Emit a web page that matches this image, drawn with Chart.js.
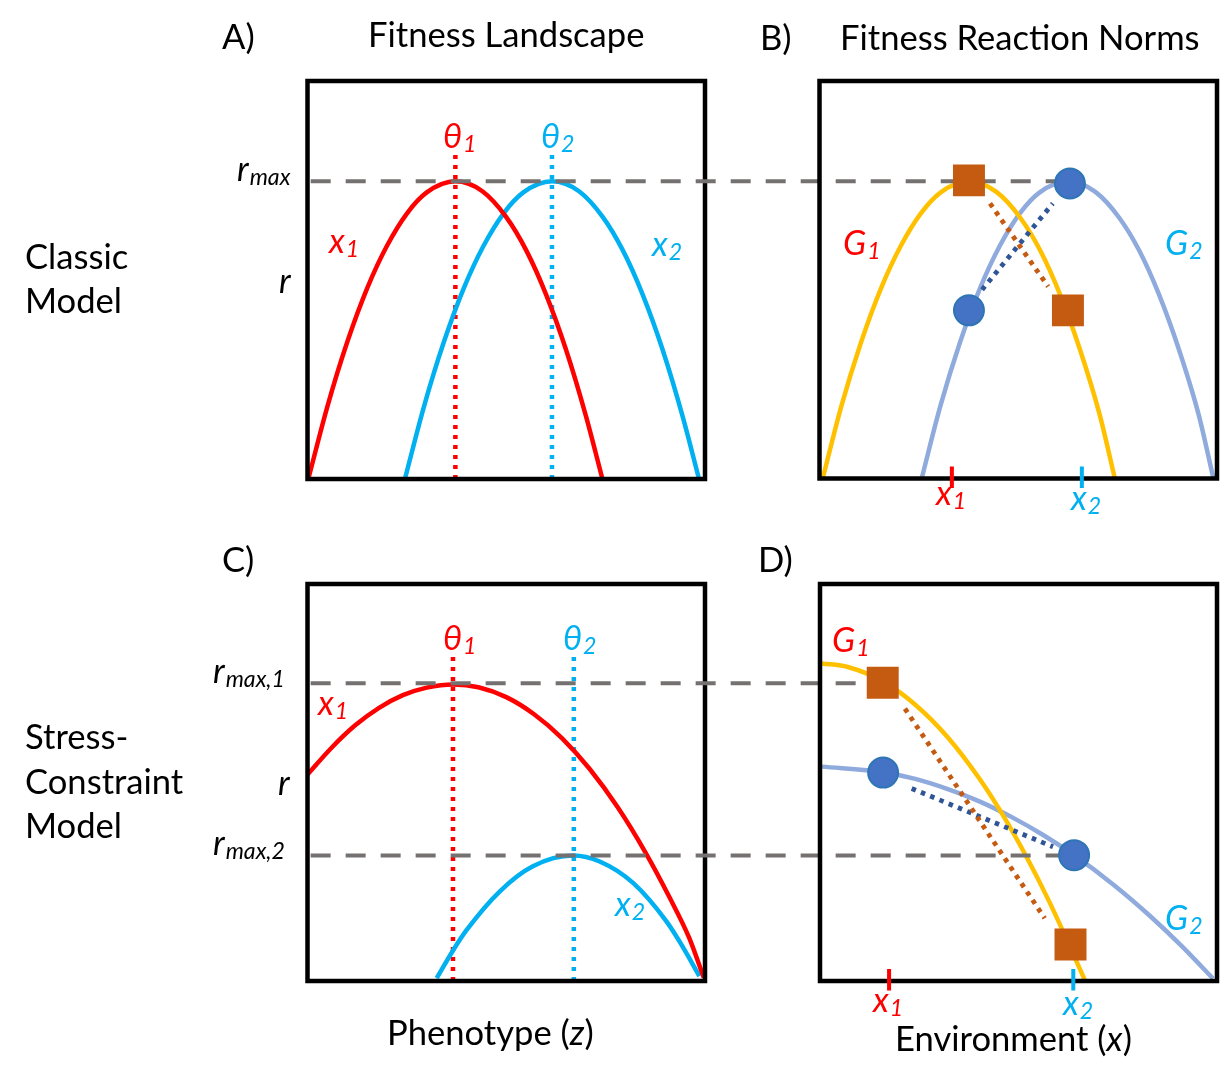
<!DOCTYPE html>
<html><head><meta charset="utf-8">
<script src="https://cdn.jsdelivr.net/npm/chart.js@4.4.1/dist/chart.umd.min.js"></script>
<style>
html,body{margin:0;padding:0;background:#fff;}
#fig{position:relative;width:1220px;height:1085px;overflow:hidden;background:#fff;}
#fig canvas{position:absolute;left:0;top:0;}
.t{position:absolute;white-space:nowrap;line-height:1;font-family:Lato,'Open Sans',sans-serif;color:#000;font-size:34.6px;}
.m{font-style:italic;font-size:34px;}
.s{font-size:0.68em;position:relative;top:0.2em;margin-left:1px;}
.red{color:#FF0000;} .cyan{color:#00B0F0;}
</style></head><body>
<div id="fig">
<canvas id="cA" width="1220" height="1085"></canvas>
<canvas id="cC" width="1220" height="1085"></canvas>
<canvas id="cB" width="1220" height="1085"></canvas>
<canvas id="cD" width="1220" height="1085"></canvas>

<div class="t" data-b="50" style="left:222px">A)</div>
<div class="t" data-b="48" style="left:368px">Fitness Landscape</div>
<div class="t" data-b="51" style="left:760px">B)</div>
<div class="t" data-b="51" style="left:840px">Fitness Reaction Norms</div>
<div class="t" data-b="573" style="left:222px">C)</div>
<div class="t" data-b="573" style="left:758px">D)</div>
<div class="t" data-b="270" style="left:25px">Classic</div>
<div class="t" data-b="314" style="left:25px">Model</div>
<div class="t" data-b="750" style="left:25px">Stress-</div>
<div class="t" data-b="795" style="left:25px">Constraint</div>
<div class="t" data-b="839" style="left:25px">Model</div>
<div class="t" data-b="1046" style="left:387px">Phenotype (<i>z</i>)</div>
<div class="t" data-b="1052" style="left:895px">Environment (<i>x</i>)</div>

<div class="t m" data-b="181" style="left:237px">r<span class="s">max</span></div>
<div class="t m" data-b="293" style="left:279px">r</div>
<div class="t m" data-b="683" style="left:213px">r<span class="s">max,1</span></div>
<div class="t m" data-b="795" style="left:278px">r</div>
<div class="t m" data-b="855" style="left:213px">r<span class="s">max,2</span></div>

<div class="t m red" data-b="148" style="left:443px">θ<span class="s">1</span></div>
<div class="t m cyan" data-b="148" style="left:541px">θ<span class="s">2</span></div>
<div class="t m red" data-b="253" style="left:329px">x<span class="s">1</span></div>
<div class="t m cyan" data-b="256" style="left:652px">x<span class="s">2</span></div>
<div class="t m red" data-b="255" style="left:843px">G<span class="s">1</span></div>
<div class="t m cyan" data-b="255" style="left:1165px">G<span class="s">2</span></div>
<div class="t m red" data-b="505" style="left:936px">x<span class="s">1</span></div>
<div class="t m cyan" data-b="510" style="left:1071px">x<span class="s">2</span></div>

<div class="t m red" data-b="650" style="left:443px">θ<span class="s">1</span></div>
<div class="t m cyan" data-b="650" style="left:563px">θ<span class="s">2</span></div>
<div class="t m red" data-b="715" style="left:318px">x<span class="s">1</span></div>
<div class="t m cyan" data-b="916" style="left:615px">x<span class="s">2</span></div>
<div class="t m red" data-b="652" style="left:832px">G<span class="s">1</span></div>
<div class="t m cyan" data-b="930" style="left:1165px">G<span class="s">2</span></div>
<div class="t m red" data-b="1012" style="left:873px">x<span class="s">1</span></div>
<div class="t m cyan" data-b="1015" style="left:1063px">x<span class="s">2</span></div>
</div>

<script>
// ================= DATA (abstract units 0..10 on every panel) =================
// Panel A - fitness landscape, classic model: r vs phenotype z
const zA_x1 = [0.02, 0.5, 1.0, 1.5, 2.0, 2.5, 3.0, 3.72, 4.4, 5.0, 5.5, 6.0, 6.5, 7.0, 7.42];
const rA_x1 = [0, 1.82, 3.44, 4.79, 5.86, 6.67, 7.20, 7.48, 7.23, 6.58, 5.75, 4.64, 3.26, 1.60, 0];
const zA_x2 = [2.45, 2.93, 3.43, 3.93, 4.43, 4.93, 5.43, 6.15, 6.83, 7.43, 7.93, 8.43, 8.93, 9.43, 9.85];
const rA_x2 = [0, 1.82, 3.44, 4.79, 5.86, 6.67, 7.20, 7.48, 7.23, 6.58, 5.75, 4.64, 3.26, 1.60, 0];
const thetaA = [3.72, 6.15];
const thetaSpan = [0, 8.2];

// Panel B - fitness reaction norms, classic model: r vs environment x
const eB_G1 = [0.08, 0.55, 1.05, 1.55, 2.05, 2.55, 3.05, 3.76, 4.45, 5.05, 5.55, 6.05, 6.55, 7.05, 7.43];
const rB_G1 = [0, 1.82, 3.44, 4.79, 5.86, 6.67, 7.20, 7.47, 7.21, 6.56, 5.74, 4.63, 3.25, 1.60, 0];
const eB_G2 = [2.57, 3.04, 3.54, 4.04, 4.54, 5.04, 5.54, 6.27, 6.94, 7.54, 8.04, 8.54, 9.04, 9.54, 9.91];
const rB_G2 = [0, 1.82, 3.44, 4.79, 5.86, 6.67, 7.20, 7.47, 7.21, 6.56, 5.74, 4.63, 3.25, 1.60, 0];
const sqB_x = [3.76, 6.25];  const sqB_r = [7.50, 4.23];
const ciB_x = [3.76, 6.30];  const ciB_r = [4.23, 7.42];
const dotSqB_x = [4.29, 5.75]; const dotSqB_r = [6.92, 4.83];
const dotCiB_x = [4.09, 5.87]; const dotCiB_r = [4.75, 6.92];
const rmaxB = 7.48;  const rmaxB_span = [-12.8, 6.30];
const envTicksB = [3.33, 6.60];
const tickSpan = [0.30, -0.24];

// Panel C - fitness landscape, stress-constraint model
const zC_x1 = [0, 0.6, 1.2, 1.8, 2.4, 3.0, 3.67, 4.3, 5.0, 5.7, 6.4, 7.1, 7.8, 8.5, 9.1, 9.6, 9.97];
const rC_x1 = [5.20, 5.87, 6.44, 6.88, 7.20, 7.39, 7.47, 7.40, 7.15, 6.72, 6.12, 5.34, 4.38, 3.24, 2.12, 1.09, 0.08];
const zC_x2 = [3.25, 3.68, 4.0, 4.84, 5.67, 6.68, 7.35, 8.19, 9.03, 9.44, 9.86];
const rC_x2 = [0.07, 0.80, 1.28, 2.26, 2.89, 3.16, 3.01, 2.47, 1.50, 0.86, 0.12];
const thetaC = [3.66, 6.70];

// Panel D - fitness reaction norms, stress-constraint model
const eD_G1 = [0.05, 0.7, 1.58, 2.4, 3.2, 4.0, 4.6, 5.2, 5.75, 6.25, 6.68];
const rD_G1 = [8.0, 7.91, 7.55, 6.96, 6.16, 5.12, 4.19, 3.13, 2.05, 0.97, 0];
const eD_G2 = [0.05, 1.59, 2.4, 3.2, 4.0, 4.9, 5.6, 6.4, 7.4, 8.3, 9.1, 9.9];
const rD_G2 = [5.40, 5.26, 5.09, 4.84, 4.53, 4.09, 3.69, 3.17, 2.42, 1.65, 0.89, 0.06];
const sqD_x = [1.58, 6.31];  const sqD_r = [7.51, 0.92];
const ciD_x = [1.59, 6.40];  const ciD_r = [5.25, 3.17];
const dotSqD_x = [2.14, 5.66]; const dotSqD_r = [6.86, 1.58];
const dotCiD_x = [2.31, 5.87]; const dotCiD_r = [4.85, 3.38];
const rmax1D = 7.50; const rmax1D_span = [-12.83, 1.58];
const rmax2D = 3.16; const rmax2D_span = [-12.83, 6.40];
const envTicksD = [1.74, 6.38];

// ================= STYLE / LAYOUT =================
const W = 1220, H = 1085;
const RED = '#FF0000', CYAN = '#00B0F0', GOLD = '#FFC000', SLATE = '#8FAADC',
      GRAY = '#767171', RUST = '#C55A11', NAVY = '#2F5597', DOT = '#4472C4';
const boxes = {
  A: {l: 307.5, t: 81, r: 705, b: 479},
  B: {l: 819.5, t: 81, r: 1217, b: 478.5},
  C: {l: 307.5, t: 584, r: 705, b: 981},
  D: {l: 820, t: 584, r: 1217, b: 981}
};

const pts = (xs, ys) => xs.map((x, i) => ({x, y: ys[i]}));
const hline = (y, span) => pts(span, [y, y]);
const vline = (x, span) => pts([x, x], span);

function curve(xs, ys, color, order) {
  return {data: pts(xs, ys), showLine: true, borderColor: color, borderWidth: 4.5,
    pointRadius: 0, cubicInterpolationMode: 'monotone', fill: false, clip: false, order};
}
function seg(data, color, width, dash, order, isTick) {
  return {data, showLine: true, borderColor: color, borderWidth: width, borderDash: dash,
    pointRadius: 0, tension: 0, fill: false, clip: false, order, isTick: !!isTick};
}
function marks(xs, ys, style, order) {
  const sq = style === 'rect';
  return {data: pts(xs, ys), showLine: false, pointStyle: style,
    pointRadius: sq ? 22.6 : 15, pointBorderWidth: sq ? 0 : 2,
    backgroundColor: sq ? RUST : DOT, borderColor: sq ? RUST : '#2E75B6',
    pointBackgroundColor: sq ? RUST : DOT, pointBorderColor: sq ? RUST : '#2E75B6', order};
}

function drawFrame(chart) {
  const a = chart.chartArea, c = chart.ctx;
  c.save(); c.lineWidth = 4.5; c.strokeStyle = '#000';
  c.strokeRect(a.left, a.top, a.right - a.left, a.bottom - a.top);
  c.restore(); chart.$framed = true;
}
const framePlugin = {
  id: 'frame',
  beforeDraw(chart) { chart.$framed = false; },
  beforeDatasetDraw(chart, args) {
    if (!chart.$framed && chart.data.datasets[args.index].isTick) drawFrame(chart);
  },
  afterDatasetsDraw(chart) { if (!chart.$framed) drawFrame(chart); }
};

function panel(id, box, datasets) {
  return new Chart(document.getElementById(id), {
    type: 'scatter',
    data: {datasets},
    options: {
      responsive: false, animation: false, events: [],
      layout: {autoPadding: false,
               padding: {left: box.l, top: box.t, right: W - box.r, bottom: H - box.b}},
      scales: {
        x: {type: 'linear', min: 0, max: 10, display: false},
        y: {type: 'linear', min: 0, max: 10, display: false}
      },
      plugins: {legend: {display: false}, tooltip: {enabled: false}}
    },
    plugins: [framePlugin]
  });
}

// Panel A
panel('cA', boxes.A, [
  curve(zA_x1, rA_x1, RED, 3),
  curve(zA_x2, rA_x2, CYAN, 3),
  seg(vline(thetaA[0], thetaSpan), RED, 4.5, [4, 6], 4),
  seg(vline(thetaA[1], thetaSpan), CYAN, 4.5, [4, 6], 4)
]);
// Panel C
panel('cC', boxes.C, [
  curve(zC_x1, rC_x1, RED, 3),
  curve(zC_x2, rC_x2, CYAN, 3),
  seg(vline(thetaC[0], thetaSpan), RED, 4.5, [4, 6], 4),
  seg(vline(thetaC[1], thetaSpan), CYAN, 4.5, [4, 6], 4)
]);
// Panel B
panel('cB', boxes.B, [
  marks(sqB_x, sqB_r, 'rect', 1),
  marks(ciB_x, ciB_r, 'circle', 1),
  seg(vline(envTicksB[0], tickSpan), RED, 4, [], 2, true),
  seg(vline(envTicksB[1], tickSpan), CYAN, 4, [], 2, true),
  seg(pts(dotSqB_x, dotSqB_r), RUST, 4.8, [4.5, 5.5], 3),
  seg(pts(dotCiB_x, dotCiB_r), NAVY, 4.8, [4.5, 5.5], 3),
  seg(hline(rmaxB, rmaxB_span), GRAY, 4, [20, 15], 4),
  curve(eB_G1, rB_G1, GOLD, 5),
  curve(eB_G2, rB_G2, SLATE, 5)
]);
// Panel D
panel('cD', boxes.D, [
  marks(sqD_x, sqD_r, 'rect', 1),
  marks(ciD_x, ciD_r, 'circle', 1),
  seg(vline(envTicksD[0], tickSpan), RED, 4, [], 2, true),
  seg(vline(envTicksD[1], tickSpan), CYAN, 4, [], 2, true),
  seg(pts(dotSqD_x, dotSqD_r), RUST, 4.8, [4.5, 5.5], 3),
  seg(pts(dotCiD_x, dotCiD_r), NAVY, 4.8, [4.5, 5.5], 3),
  seg(hline(rmax1D, rmax1D_span), GRAY, 4, [20, 15], 4),
  seg(hline(rmax2D, rmax2D_span), GRAY, 4, [20, 15], 4),
  curve(eD_G1, rD_G1, GOLD, 5),
  curve(eD_G2, rD_G2, SLATE, 5)
]);

// place labels by their baseline
(function placeLabels() {
  const mc = document.createElement('canvas').getContext('2d');
  document.querySelectorAll('#fig .t').forEach(el => {
    const cs = getComputedStyle(el);
    const fs = parseFloat(cs.fontSize);
    mc.font = cs.fontStyle + ' ' + cs.fontWeight + ' ' + fs + 'px ' + cs.fontFamily;
    const m = mc.measureText('Hg');
    const A = m.fontBoundingBoxAscent, D = m.fontBoundingBoxDescent;
    const off = (fs - (A + D)) / 2 + A;
    el.style.top = (parseFloat(el.dataset.b) - off) + 'px';
  });
})();
</script>
</body></html>
